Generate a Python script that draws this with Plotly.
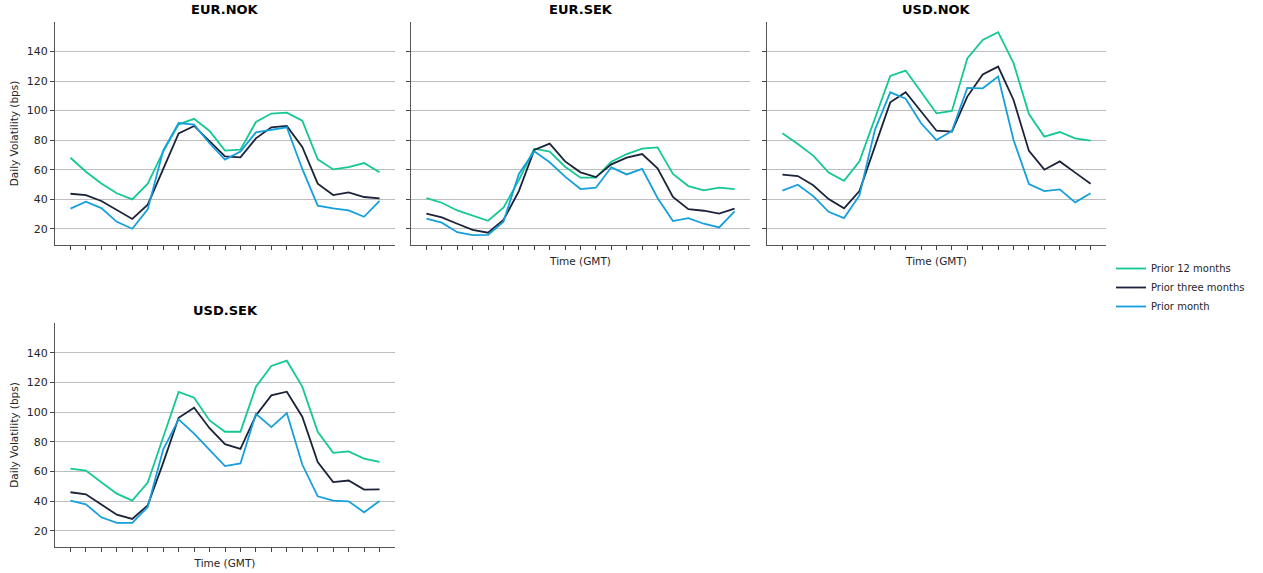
import plotly.graph_objects as go

# ---------------- data ----------------
time_slots = list(range(21))
series_names = ["Prior 12 months", "Prior three months", "Prior month"]
series_colors = ["#14c894", "#1b2339", "#169fdb"]
panel_titles = ["EUR.NOK", "EUR.SEK", "USD.NOK", "USD.SEK"]

eurnok_12m = [68.1, 58.6, 50.7, 44.0, 39.9, 50.5, 72.2, 90.7, 94.4, 86.2, 72.9, 73.6, 92.3, 98.0, 98.6, 93.2, 67.0, 60.2, 61.8, 64.5, 58.2]
eurnok_3m = [43.7, 42.8, 38.8, 32.7, 26.6, 36.3, 60.0, 84.6, 89.6, 79.0, 69.0, 68.4, 81.2, 88.7, 89.6, 75.4, 50.5, 42.8, 44.6, 41.5, 40.6]
eurnok_1m = [33.6, 38.3, 34.0, 24.7, 20.0, 33.1, 72.9, 91.6, 90.5, 77.9, 66.8, 72.2, 85.3, 86.9, 88.7, 60.5, 35.6, 33.8, 32.4, 28.1, 38.8]

eursek_12m = [40.8, 37.6, 32.4, 28.8, 25.4, 34.2, 53.0, 74.2, 72.2, 62.0, 54.6, 54.6, 65.4, 70.6, 74.2, 75.1, 57.1, 48.9, 46.0, 47.8, 46.9]
eursek_3m = [30.2, 27.7, 23.4, 19.3, 17.3, 25.9, 45.5, 73.3, 77.6, 65.6, 58.2, 55.0, 63.6, 68.1, 70.6, 60.9, 41.5, 33.3, 32.2, 30.2, 33.6]
eursek_1m = [26.8, 24.1, 17.7, 15.7, 15.9, 24.7, 57.1, 72.4, 65.0, 55.3, 46.9, 47.8, 61.6, 56.8, 60.5, 40.8, 25.2, 27.2, 23.4, 20.9, 31.8]

usdnok_12m = [84.6, 77.4, 69.5, 58.0, 52.5, 65.6, 94.6, 123.5, 127.1, 112.9, 98.2, 99.8, 135.3, 147.9, 153.1, 132.1, 97.7, 82.4, 85.5, 81.2, 79.7]
usdnok_3m = [56.6, 55.7, 49.4, 40.1, 33.8, 45.5, 75.6, 105.6, 112.4, 99.3, 86.4, 85.8, 109.5, 124.4, 129.8, 107.2, 72.7, 60.0, 65.6, 58.0, 50.5]
usdnok_1m = [45.8, 49.8, 42.1, 31.5, 27.2, 42.6, 86.9, 112.4, 108.1, 91.4, 80.1, 86.2, 115.4, 115.1, 123.0, 80.1, 50.3, 45.5, 46.7, 37.9, 44.0]

usdsek_12m = [61.9, 60.5, 52.7, 45.0, 40.3, 52.4, 83.0, 113.5, 109.6, 94.3, 86.7, 86.7, 117.1, 131.0, 134.6, 117.1, 86.7, 72.5, 73.4, 68.6, 66.4]
usdsek_3m = [45.9, 44.5, 37.6, 30.8, 27.9, 37.1, 65.7, 96.1, 102.9, 89.1, 78.3, 75.2, 97.7, 111.2, 113.7, 96.8, 66.2, 52.7, 53.8, 47.7, 47.9]
usdsek_1m = [40.3, 37.8, 29.0, 25.2, 25.2, 36.0, 74.7, 95.0, 85.5, 74.7, 63.5, 65.3, 98.8, 89.8, 99.3, 64.6, 43.2, 40.3, 39.8, 32.4, 40.0]

y_ticks = [20, 40, 60, 80, 100, 120, 140]
y_label = "Daily Volatility (bps)"
x_label = "Time (GMT)"

panels = [
    (eurnok_12m, eurnok_3m, eurnok_1m),
    (eursek_12m, eursek_3m, eursek_1m),
    (usdnok_12m, usdnok_3m, usdnok_1m),
    (usdsek_12m, usdsek_3m, usdsek_1m),
]

# ---------------- layout geometry ----------------
W, H = 1263, 573
x_domains = [(55, 395), (411, 750), (767, 1106), (55, 395)]
y_domains = [(22, 245), (22, 245), (22, 245), (323, 547)]

FONT = "DejaVu Sans"
TXT = "#262626"


def fx(px):
    return px / W


def fy(px):
    return 1 - px / H


fig = go.Figure()
for i, data in enumerate(panels):
    ax = "" if i == 0 else str(i + 1)
    for j, vals in enumerate(data):
        fig.add_trace(go.Scatter(
            x=time_slots, y=vals, mode="lines",
            name=series_names[j],
            line=dict(color=series_colors[j], width=1.8),
            xaxis="x" + ax, yaxis="y" + ax,
            showlegend=(i == 0),
        ))

layout = dict(
    width=W, height=H,
    margin=dict(l=0, r=0, t=0, b=0),
    paper_bgcolor="white", plot_bgcolor="white",
    font=dict(family=FONT, size=11, color=TXT),
    showlegend=True,
    legend=dict(x=fx(1111), y=fy(254), xanchor="left", yanchor="top",
                font=dict(size=10, family=FONT, color=TXT),
                bgcolor="rgba(0,0,0,0)", tracegroupgap=0, itemwidth=30),
)

annotations = []
for i in range(4):
    ax = "" if i == 0 else str(i + 1)
    xd = x_domains[i]
    yd = y_domains[i]
    layout["xaxis" + ax] = dict(
        domain=[fx(xd[0]), fx(xd[1])], anchor="y" + ax,
        range=[-1, 21], tickvals=time_slots, showticklabels=False,
        ticks="outside", ticklen=4, tickwidth=1, tickcolor="#444",
        showline=True, linecolor="#555", linewidth=1.2,
        showgrid=False, zeroline=False,
    )
    layout["yaxis" + ax] = dict(
        domain=[fy(yd[1]), fy(yd[0])], anchor="x" + ax,
        range=[9, 160], tickvals=y_ticks,
        showticklabels=(i in (0, 3)),
        ticks="outside", ticklen=4, tickwidth=1, tickcolor="#444",
        tickfont=dict(size=11, family=FONT, color=TXT),
        showline=True, linecolor="#555", linewidth=1.2,
        showgrid=True, gridcolor="#bdbdbd", gridwidth=1, zeroline=False,
    )
    if i in (0, 3):
        layout["yaxis" + ax]["title"] = dict(text=y_label, font=dict(size=10.5, family=FONT, color=TXT), standoff=6)
    if i in (1, 2, 3):
        layout["xaxis" + ax]["title"] = dict(text=x_label, font=dict(size=10.5, family=FONT, color=TXT), standoff=8)
    annotations.append(dict(
        text="<b>%s</b>" % panel_titles[i], x=fx((xd[0] + xd[1]) / 2), y=fy(yd[0] - 3),
        xref="paper", yref="paper", xanchor="center", yanchor="bottom",
        showarrow=False, font=dict(size=13, family=FONT, color="black"),
    ))
layout["annotations"] = annotations
fig.update_layout(**layout)

fig.write_html("out.html", config={"displayModeBar": False},
               post_script="document.body.style.margin='0';")
